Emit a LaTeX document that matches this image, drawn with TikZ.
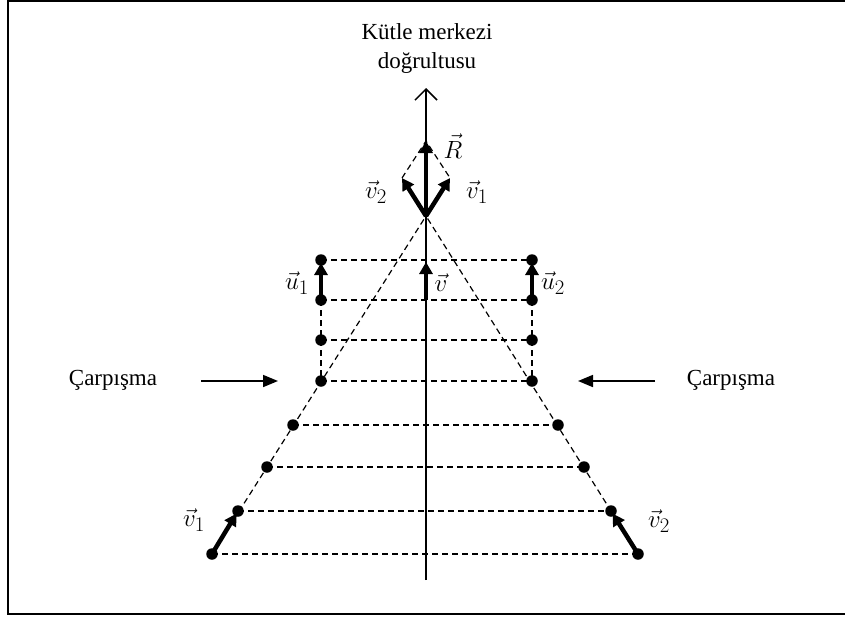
\documentclass[tikz,border=0pt]{standalone}
\usepackage{fontspec}
\setmainfont{Liberation Serif}
\usetikzlibrary{arrows.meta}
\begin{document}
\begin{tikzpicture}[x=1pt,y=-1pt,
  axisline/.style={line width=1.5pt},
  dsh/.style={line width=1.2pt, dash pattern=on 6pt off 4pt},
  thickvec/.style={line width=4.5pt, -{Triangle[length=12pt,width=13pt]}},
  pt/.style={circle, fill, inner sep=0pt, minimum size=11.5pt},
  lbl/.style={font=\fontsize{29}{32}\selectfont, inner sep=0pt},
  txt/.style={font=\fontsize{23}{29}\selectfont, align=center, inner sep=0pt},
  hit/.style={line width=1.7pt, -{Triangle[length=15pt,width=12pt]}}
]
\useasboundingbox (0,0) rectangle (845,619);
\draw[line width=1.3pt] (8,1) rectangle (852,614);

% coordinates
\coordinate (bot) at (426,580);
\coordinate (top) at (426,88);
\coordinate (A) at (426,216);
\coordinate (Rt) at (426,141);
\coordinate (V2t) at (402,178);
\coordinate (V1t) at (450,178);
\coordinate (C1) at (426,260);
\coordinate (C2) at (426,300);

% dots
\node[pt] (L1) at (321,260) {};
\node[pt] (L2) at (321,300) {};
\node[pt] (L3) at (321,340) {};
\node[pt] (L4) at (321,381) {};
\node[pt] (L5) at (293,425) {};
\node[pt] (L6) at (267,467) {};
\node[pt] (L7) at (238,511) {};
\node[pt] (L8) at (212,554) {};
\node[pt] (Q1) at (532,260) {};
\node[pt] (Q2) at (532,300) {};
\node[pt] (Q3) at (532,340) {};
\node[pt] (Q4) at (532,381) {};
\node[pt] (Q5) at (558,425) {};
\node[pt] (Q6) at (584,467) {};
\node[pt] (Q7) at (611,511) {};
\node[pt] (Q8) at (638,554) {};

% dashed lines
\draw[dsh] (L8.center) -- (A);
\draw[dsh] (Q8.center) -- (A);
\foreach \i in {1,...,8} \draw[dsh] (L\i.center) -- (Q\i.center);
\draw[dsh] (L2.center) -- (L4.center);
\draw[dsh] (Q2.center) -- (Q4.center);
\draw[dsh] (V2t) -- (Rt) -- (V1t);

% axis
\draw[axisline, -{Straight Barb[length=11pt,width=22pt,line width=1.5pt]}] (bot) -- (top);

% thick vectors
\draw[thickvec] (A) -- (Rt);
\draw[thickvec] (A) -- (V2t);
\draw[thickvec] (A) -- (V1t);
\draw[thickvec, shorten >=3pt] (L2.center) -- (L1.center);
\draw[thickvec, shorten >=3pt] (Q2.center) -- (Q1.center);
\draw[thickvec, shorten >=2pt] (C2) -- (C1);
\draw[thickvec, shorten >=3pt] (L8.center) -- (L7.center);
\draw[thickvec, shorten >=3pt] (Q8.center) -- (Q7.center);

% collision arrows
\coordinate (ha) at (201,381);
\coordinate (hb) at (278,381);
\coordinate (hc) at (655,381);
\coordinate (hd) at (578,381);
\draw[hit] (ha) -- (hb);
\draw[hit] (hc) -- (hd);

% labels
\node[txt] (title) at (427,48) {Kütle merkezi\\doğrultusu};
\node[txt] (cl) at (113,380) {Çarpışma};
\node[txt] (cr) at (731,380) {Çarpışma};
\node[lbl] (lR) at (453,146) {$\vec{R}$};
\node[lbl] (lv2t) at (376,192) {$\vec{v}_2$};
\node[lbl] (lv1t) at (477,192) {$\vec{v}_1$};
\node[lbl] (lu1) at (297,283) {$\vec{u}_1$};
\node[lbl] (lv) at (441,283) {$\vec{v}$};
\node[lbl] (lu2) at (553,283) {$\vec{u}_2$};
\node[lbl] (lv1b) at (194,520) {$\vec{v}_1$};
\node[lbl] (lv2b) at (659,521) {$\vec{v}_2$};
\end{tikzpicture}
\end{document}
